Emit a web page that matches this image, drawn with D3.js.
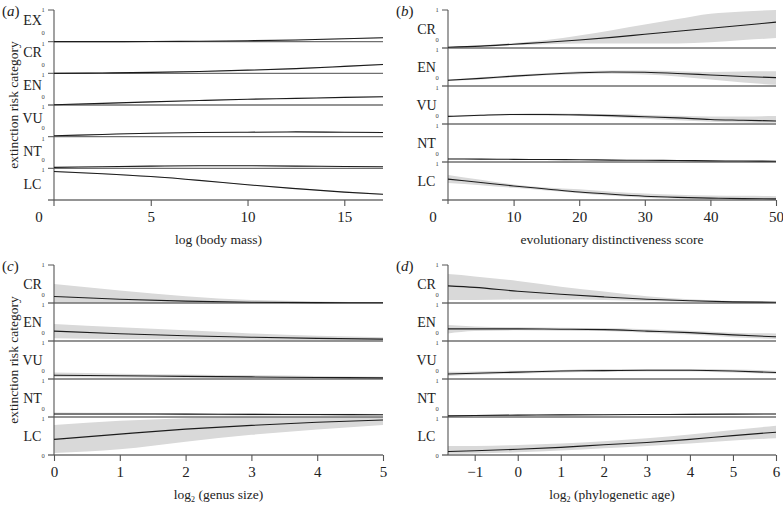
<!DOCTYPE html>
<html><head><meta charset="utf-8">
<script src="https://cdn.jsdelivr.net/npm/d3@7"></script>
<style>
body{margin:0;background:#fff}
svg{display:block}
text{font-family:"Liberation Serif","Times New Roman",serif;fill:#222}
.tiny{opacity:0.99}
</style>
</head><body>
<svg id="chart" width="783" height="506"></svg>
<script>
// ---------- DATA ----------
// Panel (a): log (body mass)
const catsA = ["EX","CR","EN","VU","NT","LC"];
const xA = [0, 2.5, 5, 7.5, 10, 12.5, 15, 17];
const aEX_mean = [0.0, 0.0, 0.005, 0.015, 0.03, 0.055, 0.09, 0.125];
const aEX_lo   = [0.0, 0.0, 0.0, 0.005, 0.02, 0.04, 0.075, 0.105];
const aEX_hi   = [0.01, 0.01, 0.015, 0.025, 0.04, 0.07, 0.105, 0.145];
const aCR_mean = [0.0, 0.01, 0.03, 0.06, 0.1, 0.15, 0.22, 0.28];
const aCR_lo   = [0.0, 0.0, 0.02, 0.045, 0.085, 0.13, 0.2, 0.255];
const aCR_hi   = [0.01, 0.02, 0.04, 0.075, 0.115, 0.17, 0.24, 0.305];
const aEN_mean = [0.01, 0.05, 0.1, 0.14, 0.18, 0.21, 0.24, 0.26];
const aEN_lo   = [0.0, 0.04, 0.09, 0.13, 0.17, 0.195, 0.225, 0.24];
const aEN_hi   = [0.02, 0.06, 0.11, 0.15, 0.19, 0.225, 0.255, 0.28];
const aVU_mean = [0.03, 0.07, 0.11, 0.13, 0.14, 0.15, 0.14, 0.13];
const aVU_lo   = [0.02, 0.06, 0.1, 0.12, 0.13, 0.14, 0.125, 0.11];
const aVU_hi   = [0.04, 0.08, 0.12, 0.14, 0.15, 0.16, 0.155, 0.15];
const aNT_mean = [0.03, 0.05, 0.07, 0.08, 0.08, 0.07, 0.06, 0.05];
const aNT_lo   = [0.02, 0.04, 0.06, 0.07, 0.07, 0.06, 0.05, 0.04];
const aNT_hi   = [0.04, 0.06, 0.08, 0.09, 0.09, 0.08, 0.07, 0.06];
const aLC_mean = [0.9, 0.83, 0.74, 0.62, 0.48, 0.36, 0.25, 0.18];
const aLC_lo   = [0.88, 0.815, 0.725, 0.605, 0.465, 0.345, 0.235, 0.16];
const aLC_hi   = [0.92, 0.845, 0.755, 0.635, 0.495, 0.375, 0.265, 0.2];
const ticksA = [5, 10, 15];

// Panel (b): evolutionary distinctiveness score
const catsB = ["CR","EN","VU","NT","LC"];
const xB = [0, 5, 10, 15, 20, 25, 30, 35, 40, 45, 50];
const bCR_mean = [0.02, 0.05, 0.1, 0.15, 0.21, 0.28, 0.36, 0.44, 0.52, 0.6, 0.68];
const bCR_lo   = [0.01, 0.03, 0.07, 0.1, 0.12, 0.12, 0.12, 0.12, 0.15, 0.21, 0.26];
const bCR_hi   = [0.03, 0.07, 0.13, 0.21, 0.33, 0.47, 0.62, 0.76, 0.9, 0.96, 1.0];
const bEN_mean = [0.15, 0.2, 0.26, 0.31, 0.35, 0.37, 0.36, 0.33, 0.29, 0.25, 0.22];
const bEN_lo   = [0.13, 0.17, 0.23, 0.28, 0.31, 0.32, 0.3, 0.25, 0.17, 0.09, 0.03];
const bEN_hi   = [0.17, 0.23, 0.29, 0.34, 0.39, 0.41, 0.41, 0.39, 0.37, 0.38, 0.39];
const bVU_mean = [0.2, 0.23, 0.25, 0.25, 0.24, 0.22, 0.19, 0.16, 0.12, 0.1, 0.08];
const bVU_lo   = [0.18, 0.21, 0.23, 0.22, 0.21, 0.18, 0.14, 0.1, 0.06, 0.04, 0.03];
const bVU_hi   = [0.22, 0.25, 0.27, 0.28, 0.27, 0.26, 0.24, 0.22, 0.2, 0.2, 0.21];
const bNT_mean = [0.08, 0.075, 0.07, 0.065, 0.06, 0.05, 0.045, 0.04, 0.03, 0.025, 0.02];
const bNT_lo   = [0.07, 0.065, 0.06, 0.055, 0.05, 0.04, 0.035, 0.03, 0.02, 0.015, 0.01];
const bNT_hi   = [0.09, 0.085, 0.08, 0.075, 0.07, 0.06, 0.055, 0.05, 0.04, 0.035, 0.03];
const bLC_mean = [0.55, 0.46, 0.37, 0.29, 0.21, 0.15, 0.1, 0.07, 0.05, 0.035, 0.03];
const bLC_lo   = [0.45, 0.39, 0.32, 0.25, 0.18, 0.11, 0.06, 0.03, 0.02, 0.01, 0.01];
const bLC_hi   = [0.66, 0.53, 0.41, 0.33, 0.28, 0.22, 0.17, 0.14, 0.12, 0.11, 0.1];
const ticksB = [10, 20, 30, 40, 50];

// Panel (c): log2 (genus size)
const catsC = ["CR","EN","VU","NT","LC"];
const xC = [0, 1, 2, 3, 4, 5];
const cCR_mean = [0.17, 0.1, 0.05, 0.02, 0.01, 0.005];
const cCR_lo   = [0.0, 0.0, 0.0, 0.0, 0.0, 0.0];
const cCR_hi   = [0.5, 0.33, 0.18, 0.08, 0.04, 0.02];
const cEN_mean = [0.26, 0.19, 0.14, 0.1, 0.07, 0.05];
const cEN_lo   = [0.07, 0.05, 0.04, 0.03, 0.02, 0.01];
const cEN_hi   = [0.45, 0.36, 0.28, 0.2, 0.14, 0.1];
const cVU_mean = [0.1, 0.085, 0.07, 0.055, 0.04, 0.03];
const cVU_lo   = [0.05, 0.04, 0.03, 0.02, 0.01, 0.01];
const cVU_hi   = [0.17, 0.14, 0.12, 0.1, 0.08, 0.06];
const cNT_mean = [0.08, 0.08, 0.075, 0.07, 0.065, 0.06];
const cNT_lo   = [0.05, 0.05, 0.045, 0.04, 0.035, 0.03];
const cNT_hi   = [0.12, 0.11, 0.1, 0.09, 0.085, 0.08];
const cLC_mean = [0.41, 0.55, 0.68, 0.78, 0.86, 0.92];
const cLC_lo   = [0.05, 0.15, 0.35, 0.53, 0.67, 0.79];
const cLC_hi   = [0.79, 0.9, 0.97, 1.0, 1.0, 1.0];
const ticksC = [0, 1, 2, 3, 4, 5];

// Panel (d): log2 (phylogenetic age)
const catsD = ["CR","EN","VU","NT","LC"];
const xD = [-1.62, -1, 0, 1, 2, 3, 4, 5, 6];
const dCR_mean = [0.45, 0.41, 0.31, 0.23, 0.16, 0.1, 0.06, 0.03, 0.02];
const dCR_lo   = [0.08, 0.08, 0.09, 0.09, 0.08, 0.05, 0.03, 0.01, 0.01];
const dCR_hi   = [0.76, 0.7, 0.58, 0.43, 0.3, 0.18, 0.1, 0.05, 0.03];
const dEN_mean = [0.32, 0.32, 0.32, 0.31, 0.3, 0.26, 0.22, 0.16, 0.11];
const dEN_lo   = [0.2, 0.26, 0.28, 0.27, 0.26, 0.22, 0.17, 0.1, 0.05];
const dEN_hi   = [0.42, 0.38, 0.36, 0.35, 0.34, 0.31, 0.27, 0.22, 0.2];
const dVU_mean = [0.13, 0.15, 0.18, 0.21, 0.22, 0.23, 0.23, 0.21, 0.17];
const dVU_lo   = [0.08, 0.11, 0.14, 0.17, 0.19, 0.2, 0.2, 0.17, 0.13];
const dVU_hi   = [0.19, 0.2, 0.22, 0.24, 0.26, 0.26, 0.26, 0.25, 0.22];
const dNT_mean = [0.03, 0.04, 0.05, 0.055, 0.06, 0.065, 0.07, 0.075, 0.08];
const dNT_lo   = [0.015, 0.025, 0.035, 0.04, 0.045, 0.05, 0.055, 0.06, 0.065];
const dNT_hi   = [0.045, 0.055, 0.065, 0.07, 0.075, 0.08, 0.085, 0.09, 0.095];
const dLC_mean = [0.09, 0.11, 0.15, 0.2, 0.27, 0.33, 0.41, 0.51, 0.6];
const dLC_lo   = [0.03, 0.04, 0.07, 0.12, 0.18, 0.24, 0.3, 0.38, 0.44];
const dLC_hi   = [0.24, 0.24, 0.26, 0.3, 0.36, 0.44, 0.54, 0.66, 0.77];
const ticksD = [-1, 0, 1, 2, 3, 4, 5, 6];

// ---------- BUILD ----------
const mk = (xs, m, lo, hi) => xs.map((x, i) => ({x, m: m[i], lo: lo[i], hi: hi[i]}));
const panels = [
  {label: "a", left: 54, right: 383, top: 10, bottom: 200, domain: [0, 17], ticks: ticksA,
   cats: catsA, labTop: 10, labBot: 16, zero: "offset", bottomZero: false, axisExt: 6,
   title: [{t: "log (body mass)"}],
   series: [mk(xA, aEX_mean, aEX_lo, aEX_hi), mk(xA, aCR_mean, aCR_lo, aCR_hi), mk(xA, aEN_mean, aEN_lo, aEN_hi),
            mk(xA, aVU_mean, aVU_lo, aVU_hi), mk(xA, aNT_mean, aNT_lo, aNT_hi), mk(xA, aLC_mean, aLC_lo, aLC_hi)]},
  {label: "b", left: 448, right: 776, top: 10, bottom: 200, domain: [0, 50], ticks: ticksB,
   cats: catsB, labTop: 19, labBot: 19, zero: "offset", bottomZero: false, axisExt: 4,
   title: [{t: "evolutionary distinctiveness score"}],
   series: [mk(xB, bCR_mean, bCR_lo, bCR_hi), mk(xB, bEN_mean, bEN_lo, bEN_hi), mk(xB, bVU_mean, bVU_lo, bVU_hi),
            mk(xB, bNT_mean, bNT_lo, bNT_hi), mk(xB, bLC_mean, bLC_lo, bLC_hi)]},
  {label: "c", left: 54, right: 383, top: 265, bottom: 455, domain: [0, 5], ticks: ticksC,
   cats: catsC, labTop: 19, labBot: 19, zero: "normal", bottomZero: true, axisExt: 0,
   title: [{t: "log"}, {t: "2", sub: true}, {t: " (genus size)"}],
   series: [mk(xC, cCR_mean, cCR_lo, cCR_hi), mk(xC, cEN_mean, cEN_lo, cEN_hi), mk(xC, cVU_mean, cVU_lo, cVU_hi),
            mk(xC, cNT_mean, cNT_lo, cNT_hi), mk(xC, cLC_mean, cLC_lo, cLC_hi)]},
  {label: "d", left: 448, right: 776, top: 265, bottom: 455, domain: [-1.62, 6], ticks: ticksD,
   cats: catsD, labTop: 19, labBot: 19, zero: "none", bottomZero: true, axisExt: 0,
   title: [{t: "log"}, {t: "2", sub: true}, {t: " (phylogenetic age)"}],
   series: [mk(xD, dCR_mean, dCR_lo, dCR_hi), mk(xD, dEN_mean, dEN_lo, dEN_hi), mk(xD, dVU_mean, dVU_lo, dVU_hi),
            mk(xD, dNT_mean, dNT_lo, dNT_hi), mk(xD, dLC_mean, dLC_lo, dLC_hi)]}
];

const svg = d3.select("#chart");
const SEP = "#707070", AX = "#555", LINE = "#1c1c1c", CI = "#d9d9d9";
const clamp = v => Math.max(0, Math.min(1, v));

panels.forEach(p => {
  const g = svg.append("g");
  const x = d3.scaleLinear().domain(p.domain).range([p.left, p.right]);
  const n = p.cats.length;
  const band = d3.scaleLinear().domain([0, n]).range([p.top, p.bottom]);

  // CI fills
  p.series.forEach((s, i) => {
    const y = d3.scaleLinear().domain([0, 1]).range([band(i + 1), band(i)]);
    const area = d3.area().x(d => x(d.x)).y0(d => y(clamp(d.lo))).y1(d => y(clamp(d.hi))).curve(d3.curveMonotoneX);
    g.append("path").datum(s).attr("d", area).attr("fill", CI).attr("stroke", "none");
  });

  // separators (and bottom baseline), with left ticks
  for (let i = 1; i <= n; i++) {
    g.append("line").attr("x1", p.left - 6).attr("x2", p.right)
      .attr("y1", band(i)).attr("y2", band(i)).attr("stroke", SEP).attr("stroke-width", 1.3);
  }
  // top tick
  g.append("line").attr("x1", p.left - 6).attr("x2", p.left).attr("y1", p.top).attr("y2", p.top)
    .attr("stroke", AX).attr("stroke-width", 1);
  // y axis line
  g.append("line").attr("x1", p.left).attr("x2", p.left).attr("y1", p.top).attr("y2", p.bottom + p.axisExt)
    .attr("stroke", AX).attr("stroke-width", 1.1);

  // mean lines
  p.series.forEach((s, i) => {
    const y = d3.scaleLinear().domain([0, 1]).range([band(i + 1), band(i)]);
    const line = d3.line().x(d => x(d.x)).y(d => y(clamp(d.m))).curve(d3.curveMonotoneX);
    g.append("path").datum(s).attr("d", line).attr("fill", "none").attr("stroke", LINE).attr("stroke-width", 1.1);
  });

  // tiny 0/1 labels
  const tiny = (t, yy) => g.append("text").attr("class", "tiny").attr("x", p.left - 11).attr("y", yy)
    .attr("text-anchor", "middle").attr("dominant-baseline", "central")
    .attr("font-size", 6.5).style("fill", "#444").text(t);
  tiny("1", p.top - 1);
  for (let i = 1; i < n; i++) {
    tiny("0", band(i) - 9);
    tiny("1", band(i) + 1.5);
  }
  if (p.bottomZero) tiny("0", p.bottom);

  // category labels
  const ly = d3.scaleLinear().domain([0, n - 1]).range([p.top + p.labTop, p.bottom - p.labBot]);
  p.cats.forEach((c, i) => {
    g.append("text").attr("x", p.left - 21.5).attr("y", ly(i)).attr("text-anchor", "middle")
      .attr("dominant-baseline", "central").attr("font-size", 14).text(c);
  });

  // x axis
  const axis = d3.axisBottom(x).tickValues(p.ticks).tickSize(6).tickSizeOuter(0).tickPadding(5)
    .tickFormat(d3.format("d"));
  const ag = g.append("g").attr("transform", `translate(0,${p.bottom})`).call(axis);
  ag.select(".domain").remove();
  ag.selectAll(".tick line").attr("stroke", AX).attr("stroke-width", 1.1);
  ag.selectAll(".tick text").attr("font-size", 15).style("font-family", '"Liberation Serif",serif').style("fill", "#222");
  if (p.zero === "offset") {
    g.append("text").attr("x", p.left - 15).attr("y", p.bottom + 22).attr("text-anchor", "middle")
      .attr("font-size", 15).text("0");
  }

  // x title
  const tt = g.append("text").attr("x", (p.left + p.right) / 2).attr("y", p.bottom + 44)
    .attr("text-anchor", "middle").attr("font-size", 13.5);
  p.title.forEach(part => {
    if (part.sub) tt.append("tspan").attr("font-size", 8).attr("dy", 3).text(part.t);
    else if (part.t.startsWith(" ") && p.title.some(q => q.sub)) tt.append("tspan").attr("dy", -3).text(part.t);
    else tt.append("tspan").text(part.t);
  });

  // panel label
  const pl = g.append("text").attr("x", p.left - 52).attr("y", p.top + 6).attr("font-size", 15);
  pl.append("tspan").text("(");
  pl.append("tspan").attr("font-style", "italic").text(p.label);
  pl.append("tspan").text(")");
});

// y axis titles
[{y: 105}, {y: 360}].forEach(o => {
  svg.append("text").attr("transform", `translate(13,${o.y}) rotate(-90)`).attr("text-anchor", "middle")
    .attr("dominant-baseline", "central").attr("font-size", 13.5).text("extinction risk category");
});
</script>
</body></html>
